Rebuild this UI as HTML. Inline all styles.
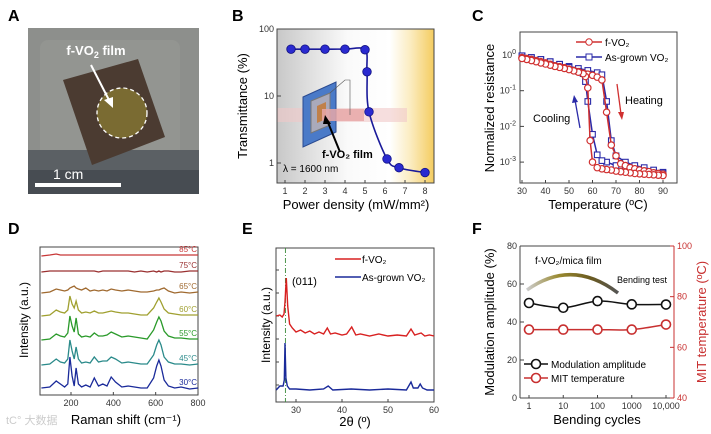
<!DOCTYPE html>
<html><head><meta charset="utf-8"><style>
body{margin:0;background:#fff;}
svg{display:block;font-family:"Liberation Sans",Arial,sans-serif;}
</style></head><body>
<svg id="fig" width="711" height="434" viewBox="0 0 711 434">
<defs>
<linearGradient id="bgB" x1="0" x2="1" y1="0" y2="0">
<stop offset="0" stop-color="#c8c8c8"/><stop offset="0.45" stop-color="#fafafa"/><stop offset="0.72" stop-color="#ffffff"/><stop offset="0.85" stop-color="#fbecc0"/><stop offset="1" stop-color="#f4cc60"/></linearGradient>
<linearGradient id="arc" x1="0" x2="1"><stop offset="0" stop-color="#ccc"/><stop offset="0.35" stop-color="#9a8a30"/><stop offset="0.7" stop-color="#6a5a20"/><stop offset="1" stop-color="#555"/></linearGradient>
</defs>
<!-- Panel labels -->
<g font-weight="bold" font-size="16">
<text x="8" y="21">A</text>
<text x="232" y="21">B</text>
<text x="472" y="21">C</text>
<text x="8" y="234">D</text>
<text x="242" y="234">E</text>
<text x="472" y="234">F</text>
</g>
<!-- Panel A photo -->
<g>
<rect x="28" y="28" width="171" height="166" fill="#8d8f8c"/>
<rect x="40" y="40" width="140" height="120" fill="#939591" rx="8"/>
<rect x="28" y="150" width="171" height="44" fill="#5b6064"/>
<rect x="28" y="170" width="171" height="24" fill="#474c52"/>
<polygon points="63,80 138,59 165,137 92,165" fill="#4b3b31"/>
<circle cx="122" cy="113" r="25" fill="#7a6b32" stroke="#fff" stroke-width="1.3" stroke-dasharray="4,3"/>
<text x="96" y="55" fill="#fff" font-weight="bold" font-size="13" text-anchor="middle">f-VO<tspan font-size="9" dy="3">2</tspan><tspan dy="-3"> film</tspan></text>
<line x1="91" y1="65" x2="110" y2="102" stroke="#fff" stroke-width="2"/>
<polygon points="113,108 104,100 113,97" fill="#fff"/>
<text x="53" y="179" fill="#fff" font-size="14">1 cm</text>
<rect x="35" y="183" width="86" height="4" fill="#fff"/>
</g>
<g id="pB"></g>
<g id="pC"></g>
<g id="pD"></g>
<g id="pE"></g>
<g id="pF"></g>
</svg>
<script>
// ---- Panel B data
const bPower=[1.3,2,3,4,5,5.1,5.2,6.1,6.7,8];
const bTrans=[50,50,50,50,49,23,5.8,1.15,0.85,0.72];
const bXTicks=[1,2,3,4,5,6,7,8];
const bYTicks=[1,10,100];
// ---- Panel C data
const cHeatT=[30,32,34,36,38,40,42,44,46,48,50,52,54,56,58,60,62,64,66,68,70,72,74,76,78,80,82,84,86,88,90];
const cHeatR=[0.85,0.8,0.75,0.7,0.65,0.6,0.55,0.5,0.47,0.44,0.4,0.37,0.34,0.31,0.29,0.27,0.24,0.2,0.025,0.003,0.0015,0.0009,0.0008,0.0007,0.00065,0.0006,0.00057,0.00054,0.0005,0.00048,0.00046];
const cCoolT=[90,88,86,84,82,80,78,76,74,72,70,68,66,64,62,60,59,58,57,56,54,52,50,48,46,44,42,40,38,36,34,32,30];
const cCoolR=[0.00042,0.00043,0.00044,0.00045,0.00046,0.00047,0.00048,0.0005,0.00052,0.00054,0.00056,0.0006,0.00062,0.00065,0.0007,0.001,0.004,0.12,0.25,0.3,0.33,0.36,0.39,0.42,0.45,0.48,0.52,0.56,0.6,0.65,0.7,0.75,0.8];
const cAgHeatT=[30,34,38,42,46,50,54,58,62,64,66,68,70,74,78,82,86,90];
const cAgHeatR=[0.95,0.85,0.75,0.65,0.55,0.48,0.42,0.37,0.32,0.28,0.05,0.004,0.0015,0.001,0.0008,0.0007,0.0006,0.00052];
const cAgCoolT=[90,86,82,78,74,70,66,64,62,60,58,57,56,54,50,46,42,38,34,30];
const cAgCoolR=[0.00048,0.0005,0.00055,0.0006,0.0007,0.0008,0.001,0.0011,0.0016,0.006,0.05,0.18,0.3,0.35,0.45,0.55,0.65,0.75,0.85,0.95];
const cXTicks=[30,40,50,60,70,80,90];
const cYExp=[0,-1,-2,-3];
// ---- Panel D data
const dShift=[60,100,130,150,170,185,195,205,215,224,235,250,270,290,310,330,350,370,390,410,440,470,500,530,560,590,605,615,625,640,660,690,720,760,800];
const dTemps=["30°C","45°C","55°C","60°C","65°C","75°C","85°C"];
const dOffsets=[5,28,53,77,100,121,137];
const d30=[2,3,9,6,3,6,33,14,4,22,6,3,5,3,12,4,6,4,13,8,3,4,3,2,2,12,24,30,24,10,4,2,3,1,2];
const d45=[2,3,8,5,4,8,27,16,8,20,8,4,5,4,10,5,6,6,10,8,4,5,4,3,3,12,22,27,22,10,5,3,3,2,3];
const d55=[2,3,8,6,5,9,26,16,10,24,8,5,6,5,9,6,6,7,10,8,5,6,5,4,3,12,20,25,21,11,6,4,4,3,3];
const d60=[2,3,8,6,5,8,22,14,10,17,8,5,6,5,7,5,5,6,7,6,5,5,4,3,3,10,16,20,16,9,5,4,3,3,3];
const d65=[2,3,6,5,4,5,7,8,9,7,6,5,7,4,5,4,5,4,6,5,4,5,4,3,3,4,5,5,6,7,4,2,3,2,3];
const d75=[2,3,3,3,3,3,3,3,3,3,3,3,3,3,3,2,3,3,3,3,3,3,2,3,2,3,2,3,2,3,3,2,2,3,3];
const d85=[2,3,4,3,3,3,3,3,3,3,3,3,3,3,3,3,3,3,3,3,3,3,3,3,3,3,3,3,3,3,3,3,3,3,3];
const dXTicks=[200,400,600,800];
// ---- Panel E data
const eAngle=[25.7,26.5,27,27.4,27.6,27.9,28.2,28.6,29.2,30,31,32,33,34,35,36,36.8,37.5,38.5,40,41,42.1,43,44,46,48,50,52,54,55,55.8,56.5,57.2,58,59,60];
const eFilm=[86,87,85,88,100,124,96,78,74,70,72,69,71,68,70,68,74,68,69,67,68,75,67,68,66,68,66,67,66,73,67,68,69,66,67,66];
const eAgAngle=[25.7,26.5,27.2,27.45,27.6,27.8,28.1,28.6,30,33,36,37,38,42,46,50,54,55,55.5,56.5,57,57.5,58.5,60];
const eAgVal=[12,16,16,22,59,24,16,13,13,12,13,16,12,13,12,13,12,20,14,14,18,14,12,12];
const eXTicks=[30,40,50,60];
// ---- Panel F data
const fCycles=[1,10,100,1000,10000];
const fCycleLabels=["1","10","100","1000","10,000"];
const fModulation=[50,47.5,51,49.3,49.2];
const fMitTemp=[67,67,67,67,69];
const fLeftTicks=[0,20,40,60,80];
const fRightTicks=[40,60,80,100];

const NS="http://www.w3.org/2000/svg";
function mk(parent,tag,attrs,text){const e=document.createElementNS(NS,tag);for(const k in attrs)e.setAttribute(k,attrs[k]);if(text!==undefined)e.textContent=text;parent.appendChild(e);return e;}
function frame(g,x0,y0,x1,y1){const r=mk(g,'rect',{x:x0,y:y0,width:x1-x0,height:y1-y0,fill:'none',stroke:'#444','stroke-width':1});}
function poly(pts){return pts.map((p,i)=>(i?'L':'M')+p[0].toFixed(1)+','+p[1].toFixed(1)).join('');}
function smooth(pts){let d='M'+pts[0][0]+','+pts[0][1];for(let i=0;i<pts.length-1;i++){const p0=pts[i-1]||pts[i],p1=pts[i],p2=pts[i+1],p3=pts[i+2]||p2;const c1=[p1[0]+(p2[0]-p0[0])/6,p1[1]+(p2[1]-p0[1])/6],c2=[p2[0]-(p3[0]-p1[0])/6,p2[1]-(p3[1]-p1[1])/6];d+='C'+c1+' '+c2+' '+p2;}return d;}

// ===== Panel B
(function(){const g=document.getElementById('pB');
const X=v=>285+(v-1)*20, Y=v=>29+(2-Math.log10(v))*67;
const L=277,R=434,T=29,B=183;
mk(g,'rect',{x:L,y:T,width:R-L,height:B-T,fill:'url(#bgB)'});
// inset device
mk(g,'rect',{x:L,y:108,width:130,height:14,fill:'#f0c8c8',opacity:0.6});
mk(g,'polygon',{points:'303,97 336,82 336,132 303,147',fill:'#4a7ac8',stroke:'#2a4a90'});
mk(g,'polygon',{points:'311,101 330,93 330,125 311,133',fill:'#aab',stroke:'#777'});
mk(g,'polygon',{points:'317,106 326,102 326,119 317,123',fill:'#c0804a'});
mk(g,'rect',{x:322,y:109,width:42,height:12,fill:'#e8a8a8',opacity:0.85});
mk(g,'polyline',{points:'330,93 345,80 350,80 350,115',fill:'none',stroke:'#555','stroke-width':0.6});
mk(g,'line',{x1:340,y1:152,x2:327,y2:120,stroke:'#000','stroke-width':2});
mk(g,'polygon',{points:'325,115 331,124 323,124',fill:'#000'});
mk(g,'text',{x:322,y:158,'font-size':11,'font-weight':'bold'},'f-VO₂ film');
mk(g,'text',{x:283,y:172,'font-size':10},'λ = 1600 nm');
frame(g,L,T,R,B);
bXTicks.forEach(t=>{mk(g,'line',{x1:X(t),x2:X(t),y1:B,y2:B-3,stroke:'#444'});mk(g,'text',{x:X(t),y:B+11,'font-size':9,'text-anchor':'middle',fill:'#333'},t);});
bYTicks.forEach(t=>{mk(g,'line',{x1:L,x2:L+4,y1:Y(t),y2:Y(t),stroke:'#444'});mk(g,'text',{x:L-3,y:Y(t)+3,'font-size':9,'text-anchor':'end',fill:'#333'},t);});
const pts=bPower.map((p,i)=>[X(p),Y(bTrans[i])]);
const ln=mk(g,'path',{d:smooth(pts),fill:'none',stroke:'#1a1a9a','stroke-width':1.6});

pts.forEach(p=>{const c=mk(g,'circle',{cx:p[0],cy:p[1],r:4.3,fill:'#2a2ad0',stroke:'#101080','stroke-width':0.8});});
mk(g,'text',{x:247,y:106,'font-size':13,'text-anchor':'middle',transform:'rotate(-90 247 106)'},'Transmittance (%)');
mk(g,'text',{x:356,y:209,'font-size':13,'text-anchor':'middle'},'Power density (mW/mm²)');
})();

// ===== Panel C
(function(){const g=document.getElementById('pC');
const X=v=>522+(v-30)*2.35, Y=v=>55-Math.log10(v)*35.7;
const L=520,R=677,T=32,B=183;
frame(g,L,T,R,B);
cXTicks.forEach(t=>{mk(g,'line',{x1:X(t),x2:X(t),y1:B,y2:B-3,stroke:'#444'});mk(g,'text',{x:X(t),y:B+11,'font-size':9,'text-anchor':'middle',fill:'#333'},t);});
cYExp.forEach(e=>{const y=55-e*35.7;mk(g,'line',{x1:L,x2:L+4,y1:y,y2:y,stroke:'#444'});const t=mk(g,'text',{x:L-4,y:y+3,'font-size':9,'text-anchor':'end',fill:'#333'});t.innerHTML='10<tspan dy="-4" font-size="7">'+e+'</tspan>';});
function series(T_,R_,col,shape,name){const pts=T_.map((t,i)=>[X(t),Y(R_[i])]);const p=mk(g,'path',{d:poly(pts),fill:'none',stroke:col,'stroke-width':1.5});
pts.forEach(q=>{let m;if(shape==='c')m=mk(g,'circle',{cx:q[0],cy:q[1],r:3.2,fill:'#fff',stroke:col,'stroke-width':1.2});else m=mk(g,'rect',{x:q[0]-2.8,y:q[1]-2.8,width:5.6,height:5.6,fill:'#fff',stroke:col,'stroke-width':1.1});});}
series(cAgHeatT,cAgHeatR,'#2a2aa8','s','asgrown-heating');series(cAgCoolT,cAgCoolR,'#2a2aa8','s','asgrown-cooling');
series(cHeatT,cHeatR,'#d03030','c','fvo2-heating');series(cCoolT,cCoolR,'#d03030','c','fvo2-cooling');
mk(g,'line',{x1:576,x2:602,y1:42,y2:42,stroke:'#d03030','stroke-width':1.5});mk(g,'circle',{cx:589,cy:42,r:3.2,fill:'#fff',stroke:'#d03030'});
mk(g,'text',{x:605,y:46,'font-size':10},'f-VO₂');
mk(g,'line',{x1:576,x2:602,y1:57,y2:57,stroke:'#2a2aa8','stroke-width':1.5});mk(g,'rect',{x:586,y:54,width:6,height:6,fill:'#fff',stroke:'#2a2aa8'});
mk(g,'text',{x:605,y:61,'font-size':10},'As-grown VO₂');
mk(g,'text',{x:533,y:122,'font-size':11},'Cooling');
mk(g,'line',{x1:580,y1:128,x2:575,y2:100,stroke:'#2a2aa8','stroke-width':1.3});mk(g,'polygon',{points:'574,95 572,103 578,102',fill:'#2a2aa8'});
mk(g,'text',{x:625,y:104,'font-size':11},'Heating');
mk(g,'line',{x1:617,y1:84,x2:621,y2:114,stroke:'#d03030','stroke-width':1.3});mk(g,'polygon',{points:'622,120 618,112 624,112',fill:'#d03030'});
mk(g,'text',{x:494,y:108,'font-size':13,'text-anchor':'middle',transform:'rotate(-90 494 108)'},'Normalized resistance');
mk(g,'text',{x:598,y:209,'font-size':13,'text-anchor':'middle'},'Temperature (ºC)');
})();

// ===== Panel D
(function(){const g=document.getElementById('pD');
const X=v=>71+(v-200)*0.2117, Y=v=>395-v;
const L=40,R=198,T=247,B=395;
frame(g,L,T,R,B);
dXTicks.forEach(t=>{mk(g,'line',{x1:X(t),x2:X(t),y1:B,y2:B-3,stroke:'#444'});mk(g,'text',{x:X(t),y:B+11,'font-size':9,'text-anchor':'middle',fill:'#333'},t);});
const traces=[d30,d45,d55,d60,d65,d75,d85];
const cols=['#1a2a9a','#2a8a8a','#2a9a2a','#a0a030','#a06a30','#9a3030','#c83838'];
traces.forEach((tr,k)=>{const pts=dShift.map((s,i)=>[X(s),Y(dOffsets[k]+tr[i])]);const p=mk(g,'path',{d:poly(pts),fill:'none',stroke:cols[k],'stroke-width':1.3});
const t=mk(g,'text',{x:197,y:Y(dOffsets[k]+tr[tr.length-1])-3,'font-size':8,'text-anchor':'end',fill:cols[k]},dTemps[k]);});
mk(g,'text',{x:28,y:320,'font-size':12,'text-anchor':'middle',transform:'rotate(-90 28 320)'},'Intensity (a.u.)');
mk(g,'text',{x:126,y:424,'font-size':13,'text-anchor':'middle'},'Raman shift (cm⁻¹)');
mk(g,'text',{x:6,y:424,'font-size':11,fill:'#ccc'},'tC° 大数据');
})();

// ===== Panel E
(function(){const g=document.getElementById('pE');
const X=v=>296+(v-30)*4.6, Y=v=>402-v;
const L=276,R=434,T=248,B=402;
frame(g,L,T,R,B);
eXTicks.forEach(t=>{mk(g,'line',{x1:X(t),x2:X(t),y1:B,y2:B-3,stroke:'#444'});mk(g,'text',{x:X(t),y:B+11,'font-size':9,'text-anchor':'middle',fill:'#333'},t);});
for(let y=T+22;y<B;y+=23)mk(g,'line',{x1:L,x2:L+3,y1:y,y2:y,stroke:'#444'});
mk(g,'line',{x1:X(27.7),x2:X(27.7),y1:T,y2:B,stroke:'#3a8a3a','stroke-width':0.9,'stroke-dasharray':'5,2,1,2'});
const p1=mk(g,'path',{d:poly(eAngle.map((a,i)=>[X(a),Y(eFilm[i])])),fill:'none',stroke:'#d82020','stroke-width':1.4});
const p2=mk(g,'path',{d:poly(eAgAngle.map((a,i)=>[X(a),Y(eAgVal[i])])),fill:'none',stroke:'#1a2a9a','stroke-width':1.4});
mk(g,'text',{x:292,y:285,'font-size':11},'(011)');
mk(g,'line',{x1:335,x2:361,y1:259,y2:259,stroke:'#d82020','stroke-width':1.5});mk(g,'text',{x:362,y:263,'font-size':10},'f-VO₂');
mk(g,'line',{x1:335,x2:361,y1:277,y2:277,stroke:'#1a2a9a','stroke-width':1.5});mk(g,'text',{x:362,y:281,'font-size':10},'As-grown VO₂');
mk(g,'text',{x:270,y:325,'font-size':12,'text-anchor':'middle',transform:'rotate(-90 270 325)'},'Intensity (a.u.)');
mk(g,'text',{x:355,y:426,'font-size':13,'text-anchor':'middle'},'2θ (º)');
})();

// ===== Panel F
(function(){const g=document.getElementById('pF');
const X=v=>529+Math.log10(v)*34.25, YL=v=>398-v*1.9, YR=v=>398-(v-40)*152/60;
const L=520,R=674,T=246,B=398;
mk(g,'path',{d:'M527,290 Q572,258 618,293',fill:'none',stroke:'url(#arc)','stroke-width':3.5});
mk(g,'text',{x:535,y:264,'font-size':10},'f-VO₂/mica film');
mk(g,'text',{x:617,y:283,'font-size':9},'Bending test');
mk(g,'line',{x1:L,x2:L,y1:T,y2:B,stroke:'#444'});mk(g,'line',{x1:L,x2:R,y1:B,y2:B,stroke:'#444'});mk(g,'line',{x1:L,x2:R,y1:T,y2:T,stroke:'#444'});
mk(g,'line',{x1:R,x2:R,y1:T,y2:B,stroke:'#c83030'});
fCycles.forEach((c,i)=>{mk(g,'line',{x1:X(c),x2:X(c),y1:B,y2:B-3,stroke:'#444'});mk(g,'text',{x:X(c),y:B+11,'font-size':9,'text-anchor':'middle',fill:'#333'},fCycleLabels[i]);});
fLeftTicks.forEach(t=>{mk(g,'line',{x1:L,x2:L+4,y1:YL(t),y2:YL(t),stroke:'#444'});mk(g,'text',{x:L-3,y:YL(t)+3,'font-size':9,'text-anchor':'end',fill:'#333'},t);});
fRightTicks.forEach(t=>{mk(g,'line',{x1:R,x2:R-4,y1:YR(t),y2:YR(t),stroke:'#c83030'});mk(g,'text',{x:R+3,y:YR(t)+3,'font-size':9,fill:'#c83030'},t);});
function ser(vals,yf,col,name){const pts=fCycles.map((c,i)=>[X(c),yf(vals[i])]);const p=mk(g,'path',{d:smooth(pts),fill:'none',stroke:col,'stroke-width':1.5});
pts.forEach(q=>{const m=mk(g,'circle',{cx:q[0],cy:q[1],r:4.5,fill:'#fff',stroke:col,'stroke-width':1.6});});}
ser(fModulation,YL,'#111','modulation');ser(fMitTemp,YR,'#c83030','mit-temp');
mk(g,'line',{x1:524,x2:548,y1:364,y2:364,stroke:'#111','stroke-width':1.5});mk(g,'circle',{cx:536,cy:364,r:4.5,fill:'#fff',stroke:'#111','stroke-width':1.6});
mk(g,'text',{x:551,y:368,'font-size':10},'Modulation amplitude');
mk(g,'line',{x1:524,x2:548,y1:378,y2:378,stroke:'#c83030','stroke-width':1.5});mk(g,'circle',{cx:536,cy:378,r:4.5,fill:'#fff',stroke:'#c83030','stroke-width':1.6});
mk(g,'text',{x:551,y:382,'font-size':10},'MIT temperature');
mk(g,'text',{x:494,y:322,'font-size':13,'text-anchor':'middle',transform:'rotate(-90 494 322)'},'Modulation amplitude (%)');
mk(g,'text',{x:706,y:322,'font-size':13,'text-anchor':'middle',fill:'#c83030',transform:'rotate(-90 706 322)'},'MIT temperature (ºC)');
mk(g,'text',{x:597,y:424,'font-size':13,'text-anchor':'middle'},'Bending cycles');
})();
</script>
</body></html>
